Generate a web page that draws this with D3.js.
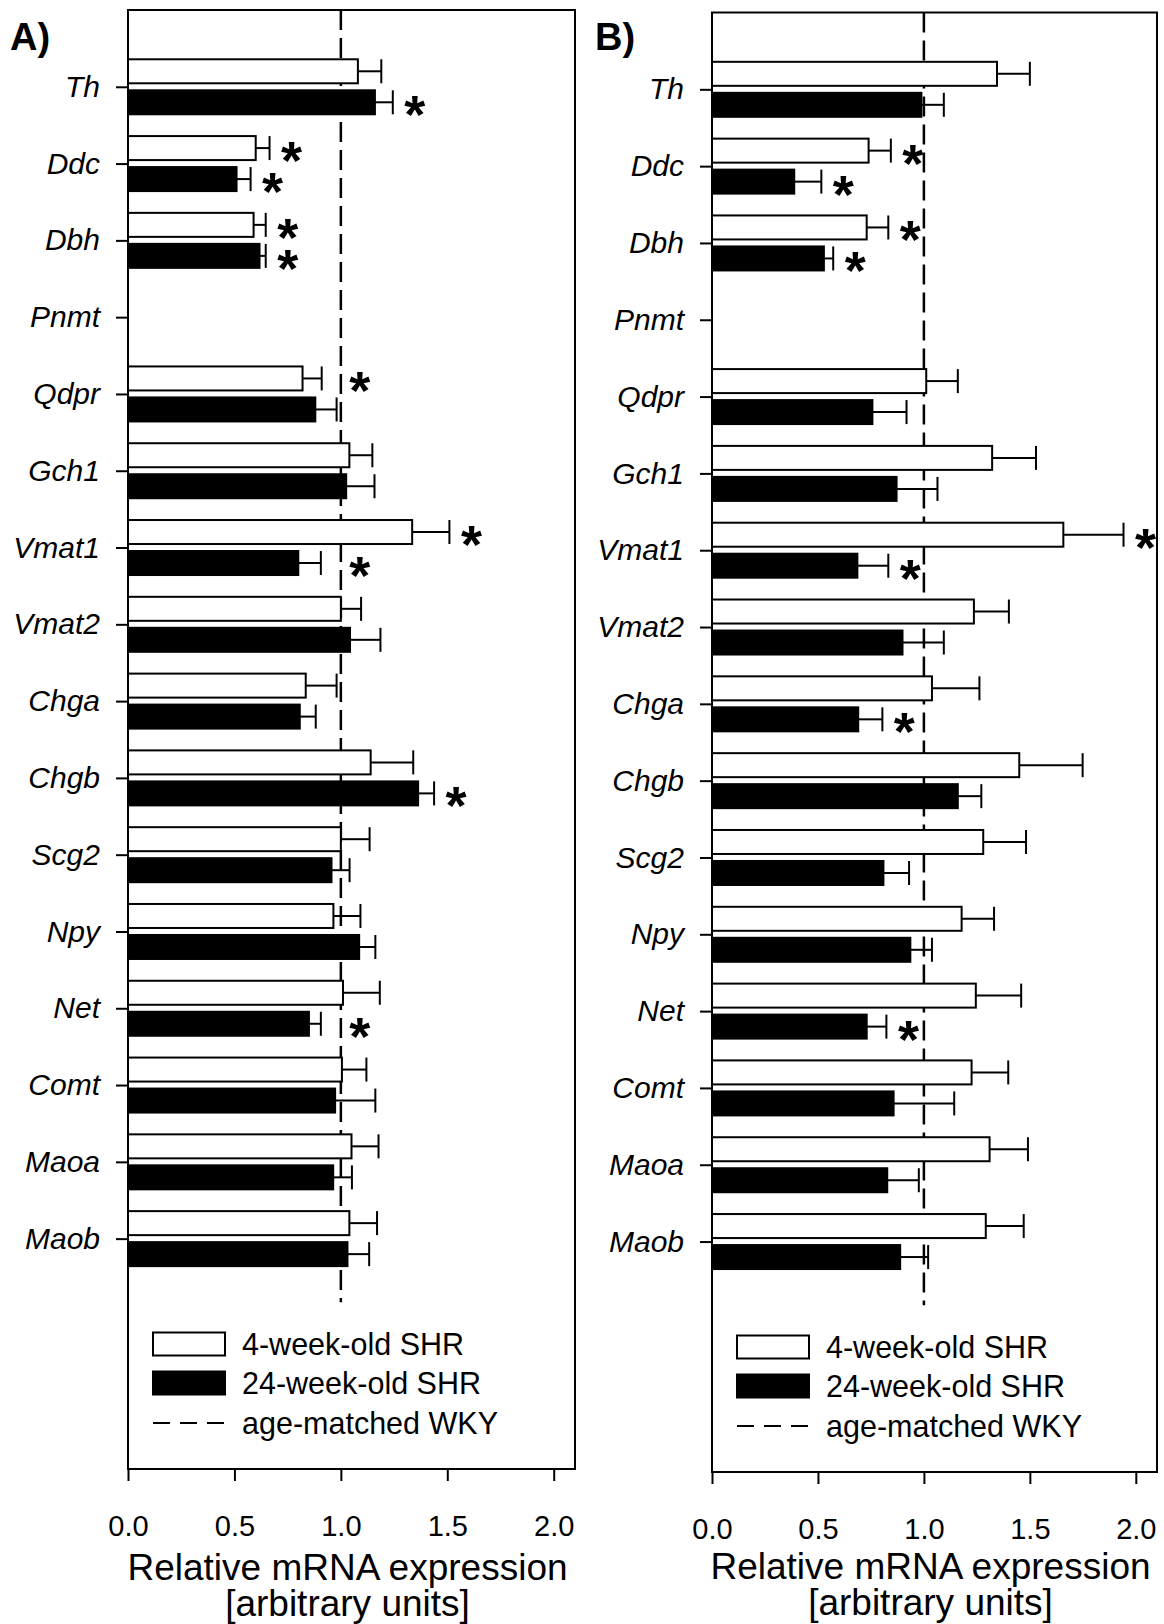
<html>
<head>
  <style>
    body { margin: 0; background: #fff; }
    text { font-family: "Liberation Sans", Arial, sans-serif; fill: #000; }
  </style>
  <script src="https://d3js.org/d3.v7.min.js"></script>
</head>
<body>
  <svg id="chart"></svg>
  <script type="text/javascript">
    // gene names, top to bottom
    var genes = ["Th", "Ddc", "Dbh", "Pnmt", "Qdpr", "Gch1", "Vmat1", "Vmat2", "Chga", "Chgb", "Scg2", "Npy", "Net", "Comt", "Maoa", "Maob"]
    var xTicks = [0.0, 0.5, 1.0, 1.5, 2.0]
    var legendLabels = ["4-week-old SHR", "24-week-old SHR", "age-matched WKY"]

    // panel A (means and SEM, relative to WKY)
    var aYoung = [1.08, 0.60, 0.59, null, 0.82, 1.04, 1.335, 1.00, 0.835, 1.14, 1.00, 0.965, 1.01, 1.005, 1.05, 1.04]
    var aYoungErr = [0.11, 0.065, 0.057, null, 0.09, 0.108, 0.175, 0.095, 0.145, 0.20, 0.135, 0.127, 0.173, 0.115, 0.127, 0.13]
    var aOld = [1.16, 0.51, 0.618, null, 0.88, 1.025, 0.80, 1.043, 0.807, 1.363, 0.956, 1.086, 0.85, 0.973, 0.964, 1.031]
    var aOldErr = [0.084, 0.066, 0.029, null, 0.10, 0.133, 0.106, 0.143, 0.075, 0.075, 0.085, 0.076, 0.056, 0.189, 0.088, 0.102]
    var aYoungSig = [0, 1, 1, 0, 1, 0, 1, 0, 0, 0, 0, 0, 0, 0, 0, 0]
    var aOldSig = [1, 1, 1, 0, 0, 0, 1, 0, 0, 1, 0, 0, 1, 0, 0, 0]

    // panel B
    var bYoung = [1.345, 0.739, 0.73, null, 1.011, 1.322, 1.658, 1.236, 1.038, 1.45, 1.28, 1.178, 1.245, 1.225, 1.31, 1.292]
    var bYoungErr = [0.155, 0.105, 0.102, null, 0.149, 0.207, 0.284, 0.165, 0.224, 0.299, 0.202, 0.153, 0.214, 0.173, 0.181, 0.179]
    var bOld = [0.988, 0.388, 0.528, null, 0.757, 0.871, 0.686, 0.899, 0.69, 1.16, 0.809, 0.936, 0.73, 0.857, 0.827, 0.888]
    var bOldErr = [0.106, 0.128, 0.044, null, 0.161, 0.193, 0.146, 0.195, 0.114, 0.111, 0.121, 0.102, 0.093, 0.286, 0.149, 0.132]
    var bYoungSig = [0, 1, 1, 0, 0, 0, 1, 0, 0, 0, 0, 0, 0, 0, 0, 0]
    var bOldSig = [0, 1, 1, 0, 0, 0, 1, 0, 1, 0, 0, 0, 1, 0, 0, 0]

    var w = 1164
    var h = 1624

    var svg = d3.select("#chart")
      .attr("width", w)
      .attr("height", h)

    var drawPanel = function(p) {
      var x = d3.scaleLinear()
        .domain([0, 2.1])
        .range([p.left, p.right])
      var y = d3.scaleLinear()
        .domain([0, 19])
        .range([p.top, p.bottom])
      var barH = 24
      var g = svg.append("g")

      var series = [
        { vals: p.young, errs: p.youngErr, sig: p.youngSig, fill: "#fff", off: -15.5 },
        { vals: p.old, errs: p.oldErr, sig: p.oldSig, fill: "#000", off: 15.5 }
      ]

      // reference line at 1.0 (WKY), stops above the legend
      g.append("line")
        .attr("x1", x(1)).attr("x2", x(1))
        .attr("y1", p.top).attr("y2", y(16.83))
        .attr("stroke", "#000")
        .attr("stroke-width", 2.5)
        .attr("stroke-dasharray", "20,8")

      series.forEach(function(s) {
        var rows = genes.map(function(gname, i) {
          return { i: i, v: s.vals[i], e: s.errs[i], sig: s.sig[i] }
        }).filter(function(d) { return d.v != null })

        // error bars
        g.selectAll(null)
          .data(rows)
          .enter()
          .append("line")
          .attr("x1", function(d) { return x(d.v) })
          .attr("x2", function(d) { return x(d.v + d.e) })
          .attr("y1", function(d) { return y(d.i + 1) + s.off })
          .attr("y2", function(d) { return y(d.i + 1) + s.off })
          .attr("stroke", "#000")
          .attr("stroke-width", 2)
        g.selectAll(null)
          .data(rows)
          .enter()
          .append("line")
          .attr("x1", function(d) { return x(d.v + d.e) })
          .attr("x2", function(d) { return x(d.v + d.e) })
          .attr("y1", function(d) { return y(d.i + 1) + s.off - barH / 2 })
          .attr("y2", function(d) { return y(d.i + 1) + s.off + barH / 2 })
          .attr("stroke", "#000")
          .attr("stroke-width", 2)

        // bars
        g.selectAll(null)
          .data(rows)
          .enter()
          .append("rect")
          .attr("x", x(0))
          .attr("y", function(d) { return y(d.i + 1) + s.off - barH / 2 })
          .attr("width", function(d) { return x(d.v) - x(0) })
          .attr("height", barH)
          .attr("fill", s.fill)
          .attr("stroke", "#000")
          .attr("stroke-width", 2)

        // significance stars
        g.selectAll(null)
          .data(rows.filter(function(d) { return d.sig }))
          .enter()
          .append("text")
          .text("*")
          .attr("x", function(d) {
            var sx = x(d.v + d.e) + 22
            if (Math.abs(sx - x(1)) < 10) sx = x(1) + 19
            return sx
          })
          .attr("y", function(d) { return y(d.i + 1) + s.off + 31 })
          .attr("text-anchor", "middle")
          .style("font-size", "54px")
          .style("font-weight", "bold")
      })

      // frame
      g.append("rect")
        .attr("x", p.left).attr("y", p.top)
        .attr("width", p.right - p.left)
        .attr("height", p.bottom - p.top)
        .attr("fill", "none")
        .attr("stroke", "#000")
        .attr("stroke-width", 2)

      // axes
      var xAxis = d3.axisBottom(x)
        .tickValues(xTicks)
        .tickFormat(d3.format(".1f"))
        .tickSize(12)
        .tickPadding(34)
      var xg = g.append("g")
        .attr("transform", "translate(0," + p.bottom + ")")
        .call(xAxis)
      xg.select(".domain").remove()
      xg.selectAll("line").attr("stroke-width", 2)
      xg.selectAll("text")
        .style("font-size", "29px")
        .style("font-family", "'Liberation Sans', Arial, sans-serif")

      var yCat = d3.scalePoint()
        .domain(genes)
        .range([y(1), y(16)])
      var yAxis = d3.axisLeft(yCat)
        .tickSize(12)
        .tickPadding(16)
      var yg = g.append("g")
        .attr("transform", "translate(" + p.left + ",0)")
        .call(yAxis)
      yg.select(".domain").remove()
      yg.selectAll("line").attr("stroke-width", 2)
      yg.selectAll("text")
        .style("font-size", "30px")
        .style("font-style", "italic")
        .style("font-family", "'Liberation Sans', Arial, sans-serif")

      // axis title
      var cx = (p.left + p.right) / 2 - 4
      g.append("text")
        .text("Relative mRNA expression")
        .attr("x", cx)
        .attr("y", p.bottom + p.titleY)
        .attr("text-anchor", "middle")
        .style("font-size", "37px")
      g.append("text")
        .text("[arbitrary units]")
        .attr("x", cx)
        .attr("y", p.bottom + p.titleY + 36)
        .attr("text-anchor", "middle")
        .style("font-size", "37px")

      // panel letter
      g.append("text")
        .text(p.label)
        .attr("x", p.labelX)
        .attr("y", 50)
        .style("font-size", "38px")
        .style("font-weight", "bold")

      // legend
      var lx = p.left + 25
      var rowsY = [p.bottom - 125, p.bottom - 86, p.bottom - 46]
      g.append("rect")
        .attr("x", lx).attr("y", rowsY[0] - 11.5)
        .attr("width", 72).attr("height", 23)
        .attr("fill", "#fff").attr("stroke", "#000").attr("stroke-width", 2)
      g.append("rect")
        .attr("x", lx).attr("y", rowsY[1] - 11.5)
        .attr("width", 72).attr("height", 23)
        .attr("fill", "#000").attr("stroke", "#000").attr("stroke-width", 2)
      g.append("line")
        .attr("x1", lx).attr("x2", lx + 72)
        .attr("y1", rowsY[2]).attr("y2", rowsY[2])
        .attr("stroke", "#000").attr("stroke-width", 2)
        .attr("stroke-dasharray", "17,10")
      g.selectAll(null)
        .data(legendLabels)
        .enter()
        .append("text")
        .text(function(d) { return d })
        .attr("x", lx + 89)
        .attr("y", function(d, i) { return rowsY[i] + 11 })
        .style("font-size", "30.5px")
    }

    drawPanel({
      label: "A)", labelX: 10,
      left: 128, right: 575, top: 10, bottom: 1469, titleY: 111,
      young: aYoung, youngErr: aYoungErr, youngSig: aYoungSig,
      old: aOld, oldErr: aOldErr, oldSig: aOldSig
    })

    drawPanel({
      label: "B)", labelX: 595,
      left: 712, right: 1157, top: 12.5, bottom: 1472, titleY: 107,
      young: bYoung, youngErr: bYoungErr, youngSig: bYoungSig,
      old: bOld, oldErr: bOldErr, oldSig: bOldSig
    })
  </script>
</body>
</html>
